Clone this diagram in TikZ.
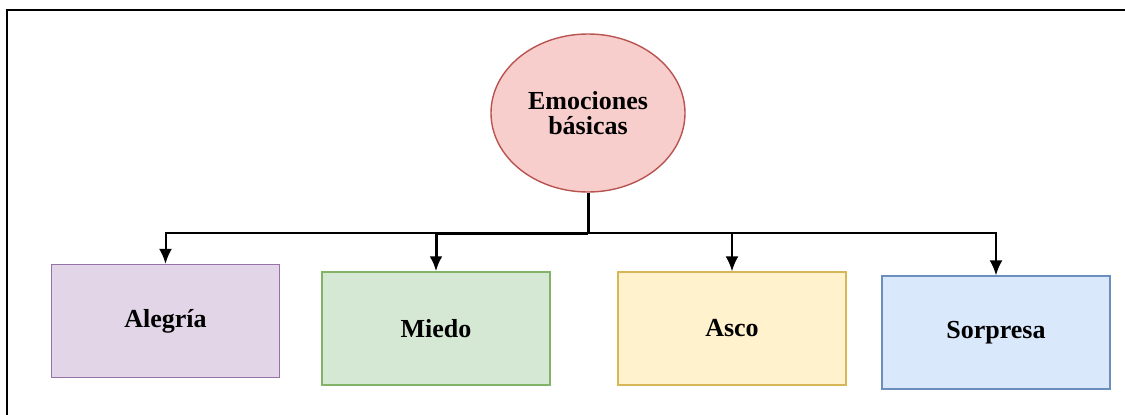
\documentclass[tikz,border=0pt]{standalone}
\usepackage{fontspec}
\setmainfont{Liberation Serif}
\usetikzlibrary{shapes.geometric,arrows.meta}
\definecolor{rojofondo}{HTML}{F8CECC}
\definecolor{rojoborde}{HTML}{B85450}
\definecolor{lilafondo}{HTML}{E1D5E7}
\definecolor{lilaborde}{HTML}{9673A6}
\definecolor{verdefondo}{HTML}{D5E8D4}
\definecolor{verdeborde}{HTML}{82B366}
\definecolor{amarillofondo}{HTML}{FFF2CC}
\definecolor{amarilloborde}{HTML}{D6B656}
\definecolor{azulfondo}{HTML}{DAE8FC}
\definecolor{azulborde}{HTML}{6C8EBF}
\tikzset{
  caja/.style={draw,line width=1.4pt,minimum width=228pt,minimum height=113pt,inner sep=0pt,
    font=\fontsize{26}{26}\selectfont\bfseries},
  flecha/.style={line width=2pt,-{Latex[length=15pt,width=13pt]}}
}
\begin{document}
\begin{tikzpicture}[x=1pt,y=1pt]
\useasboundingbox (0,0) rectangle (1125,-415);
\draw [line width=2.5pt](7,-415) -- (7,-10) -- (1125,-10);
\node [ellipse,draw=rojoborde,fill=rojofondo,line width=1.4pt,minimum width=194pt,minimum height=158pt,inner sep=0pt,
  align=center,font=\fontsize{26}{26}\selectfont\bfseries] (emo) at (588,-113) {Emociones\\[-1pt]básicas};
\node [caja,draw=lilaborde,fill=lilafondo] (alegria) at (165.5,-321) {\raisebox{-3pt}{Alegría}};
\node [caja,draw=verdeborde,fill=verdefondo] (miedo) at (436,-328.5) {Miedo};
\node [caja,draw=amarilloborde,fill=amarillofondo] (asco) at (732,-328.5) {Asco};
\node [caja,draw=azulborde,fill=azulfondo] (sorpresa) at (996,-332.5) {Sorpresa};
\coordinate (rama) at (588,-233);
\draw [line width=3pt](emo.south) -- (rama);
\draw [flecha](rama) -| (alegria.north);
\draw [flecha,line width=3pt](rama) -| (miedo.north);
\draw [flecha](rama) -| (asco.north);
\draw [flecha](rama) -| (sorpresa.north);
\end{tikzpicture}
\end{document}
